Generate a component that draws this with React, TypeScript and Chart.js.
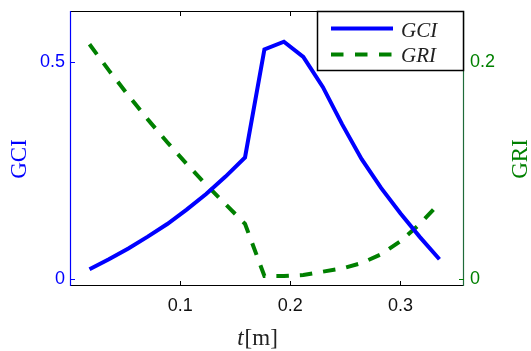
import React, { useEffect, useRef } from "react";
import { Chart, registerables } from "chart.js";

Chart.register(...registerables);

// Position along the member [m]
const tValues = [
  0.0177, 0.0353, 0.053, 0.0706, 0.0883, 0.1059, 0.1236, 0.1412, 0.1589, 0.1765,
  0.1942, 0.2118, 0.2295, 0.2471, 0.2648, 0.2824, 0.3001, 0.3177, 0.3354,
];
// Left axis series
const gciValues = [
  0.023, 0.046, 0.071, 0.098, 0.127, 0.16, 0.196, 0.236, 0.28, 0.528,
  0.546, 0.511, 0.442, 0.356, 0.276, 0.21, 0.151, 0.097, 0.046,
];
// Right axis series
const griValues = [
  0.216, 0.192, 0.169, 0.147, 0.126, 0.106, 0.087, 0.069, 0.051, 0.003,
  0.003, 0.004, 0.007, 0.01, 0.015, 0.023, 0.035, 0.051, 0.07,
];

const xTicks = [0.1, 0.2, 0.3];
const gciTicks = [0, 0.5];
const griTicks = [0, 0.2];

const BLUE = "#0000ff";
const GREEN = "#008000";
const TICK_FONT = '"Liberation Sans", Arial, sans-serif';
const SERIF = '"Liberation Serif", "Times New Roman", serif';

const framePlugin = {
  id: "frameAndLabels",
  afterDraw(chart: any) {
    const { ctx, chartArea } = chart;
    const { left, right, top, bottom } = chartArea;
    const xs = chart.scales.x;
    const y = chart.scales.y;
    const y1 = chart.scales.y1;
    ctx.save();

    // frame
    ctx.lineWidth = 1.2;
    ctx.strokeStyle = "#000";
    ctx.beginPath();
    ctx.moveTo(left, top + 0.5);
    ctx.lineTo(right, top + 0.5);
    ctx.moveTo(left, bottom - 0.5);
    ctx.lineTo(right, bottom - 0.5);
    ctx.stroke();
    ctx.strokeStyle = BLUE;
    ctx.beginPath();
    ctx.moveTo(left + 0.5, top);
    ctx.lineTo(left + 0.5, bottom);
    ctx.stroke();
    ctx.strokeStyle = "#1f6b3a";
    ctx.beginPath();
    ctx.moveTo(right - 0.5, top);
    ctx.lineTo(right - 0.5, bottom);
    ctx.stroke();

    // inward tick marks
    const tl = 5;
    ctx.lineWidth = 1;
    ctx.strokeStyle = "#000";
    ctx.beginPath();
    xTicks.forEach((v) => {
      const px = Math.round(xs.getPixelForValue(v)) + 0.5;
      ctx.moveTo(px, bottom);
      ctx.lineTo(px, bottom - tl);
      ctx.moveTo(px, top);
      ctx.lineTo(px, top + tl);
    });
    ctx.stroke();
    ctx.strokeStyle = BLUE;
    ctx.beginPath();
    gciTicks.forEach((v) => {
      const py = Math.round(y.getPixelForValue(v)) + 0.5;
      ctx.moveTo(left, py);
      ctx.lineTo(left + tl, py);
    });
    ctx.stroke();
    ctx.strokeStyle = GREEN;
    ctx.beginPath();
    griTicks.forEach((v) => {
      const py = Math.round(y1.getPixelForValue(v)) + 0.5;
      ctx.moveTo(right, py);
      ctx.lineTo(right - tl, py);
    });
    ctx.stroke();

    // axis titles
    ctx.textAlign = "center";
    ctx.textBaseline = "middle";
    ctx.font = `23px ${SERIF}`;
    ctx.fillStyle = BLUE;
    ctx.save();
    ctx.translate(20, 159);
    ctx.rotate(-Math.PI / 2);
    ctx.fillText("GCI", 0, 0);
    ctx.restore();
    ctx.fillStyle = GREEN;
    ctx.save();
    ctx.translate(521, 159);
    ctx.rotate(-Math.PI / 2);
    ctx.fillText("GRI", 0, 0);
    ctx.restore();

    // x title: italic t followed by upright [m]
    ctx.fillStyle = "#222";
    ctx.textAlign = "left";
    ctx.textBaseline = "alphabetic";
    const italic = `italic 23px ${SERIF}`;
    const upright = `23px ${SERIF}`;
    ctx.font = italic;
    const wT = ctx.measureText("t").width;
    ctx.font = upright;
    const wM = ctx.measureText("[m]").width;
    const startX = 257 - (wT + wM) / 2;
    const baseY = 345;
    ctx.font = italic;
    ctx.fillText("t", startX, baseY);
    ctx.font = upright;
    ctx.fillText("[m]", startX + wT + 1, baseY);

    // legend box
    const bx = 317.5, by = 11.5, bw = 146, bh = 59;
    ctx.fillStyle = "#fff";
    ctx.fillRect(bx, by, bw, bh);
    ctx.strokeStyle = "#000";
    ctx.lineWidth = 1.5;
    ctx.strokeRect(bx, by, bw, bh);

    ctx.lineWidth = 4;
    ctx.strokeStyle = BLUE;
    ctx.setLineDash([]);
    ctx.beginPath();
    ctx.moveTo(331, 28.5);
    ctx.lineTo(393, 28.5);
    ctx.stroke();
    ctx.strokeStyle = GREEN;
    ctx.setLineDash([12.5, 11.5]);
    ctx.beginPath();
    ctx.moveTo(331, 54.5);
    ctx.lineTo(393, 54.5);
    ctx.stroke();
    ctx.setLineDash([]);

    ctx.fillStyle = "#222";
    ctx.font = `italic 21px ${SERIF}`;
    ctx.textBaseline = "alphabetic";
    ctx.fillText("GCI", 401, 36.5);
    ctx.fillText("GRI", 401, 62);

    ctx.restore();
  },
};

export default function App() {
  const canvasRef = useRef<HTMLCanvasElement | null>(null);

  useEffect(() => {
    if (!canvasRef.current) return;
    const gciMax = 0.6165;
    const gciMin = -0.0154;
    const ratio = 2.5;

    const noPad = (s: any) => {
      s.paddingTop = 0;
      s.paddingBottom = 0;
      s.paddingLeft = 0;
      s.paddingRight = 0;
    };

    const chart = new Chart(canvasRef.current, {
      type: "line",
      data: {
        datasets: [
          {
            label: "GCI",
            data: tValues.map((t, i) => ({ x: t, y: gciValues[i] })),
            borderColor: BLUE,
            borderWidth: 4,
            pointRadius: 0,
            tension: 0,
            yAxisID: "y",
          },
          {
            label: "GRI",
            data: tValues.map((t, i) => ({ x: t, y: griValues[i] })),
            borderColor: GREEN,
            borderWidth: 4,
            borderDash: [12.5, 11],
            pointRadius: 0,
            tension: 0,
            yAxisID: "y1",
          },
        ],
      },
      options: {
        animation: false,
        responsive: false,
        devicePixelRatio: 1,
        layout: { padding: { top: 11, left: 0, right: 0, bottom: 0 } },
        plugins: {
          legend: { display: false },
          tooltip: { enabled: false },
        },
        scales: {
          x: {
            type: "linear",
            min: 0,
            max: 0.3577,
            grid: { display: false, drawTicks: false },
            border: { display: false },
            afterBuildTicks: (s: any) => {
              s.ticks = xTicks.map((v) => ({ value: v }));
            },
            afterFit: (s: any) => {
              s.height = 65;
              noPad(s);
            },
            ticks: {
              padding: 9,
              color: "#111",
              font: { family: TICK_FONT, size: 18 },
              callback: (v: any) => String(v),
            },
          },
          y: {
            type: "linear",
            position: "left",
            min: gciMin,
            max: gciMax,
            grid: { display: false, drawTicks: false },
            border: { display: false },
            afterBuildTicks: (s: any) => {
              s.ticks = gciTicks.map((v) => ({ value: v }));
            },
            afterFit: (s: any) => {
              s.width = 70;
              noPad(s);
            },
            ticks: {
              padding: 5,
              color: BLUE,
              font: { family: TICK_FONT, size: 18 },
              callback: (v: any) => String(v),
            },
          },
          y1: {
            type: "linear",
            position: "right",
            min: gciMin / ratio,
            max: gciMax / ratio,
            grid: { display: false, drawTicks: false },
            border: { display: false },
            afterBuildTicks: (s: any) => {
              s.ticks = griTicks.map((v) => ({ value: v }));
            },
            afterFit: (s: any) => {
              s.width = 67;
              noPad(s);
            },
            ticks: {
              padding: 6,
              color: GREEN,
              font: { family: TICK_FONT, size: 18 },
              callback: (v: any) => String(v),
            },
          },
        },
      },
      plugins: [framePlugin],
    });
    return () => chart.destroy();
  }, []);

  return (
    <div style={{ position: "absolute", left: 0, top: 0, width: 531, height: 351, background: "#fff" }}>
      <canvas ref={canvasRef} width={531} height={351} />
    </div>
  );
}
